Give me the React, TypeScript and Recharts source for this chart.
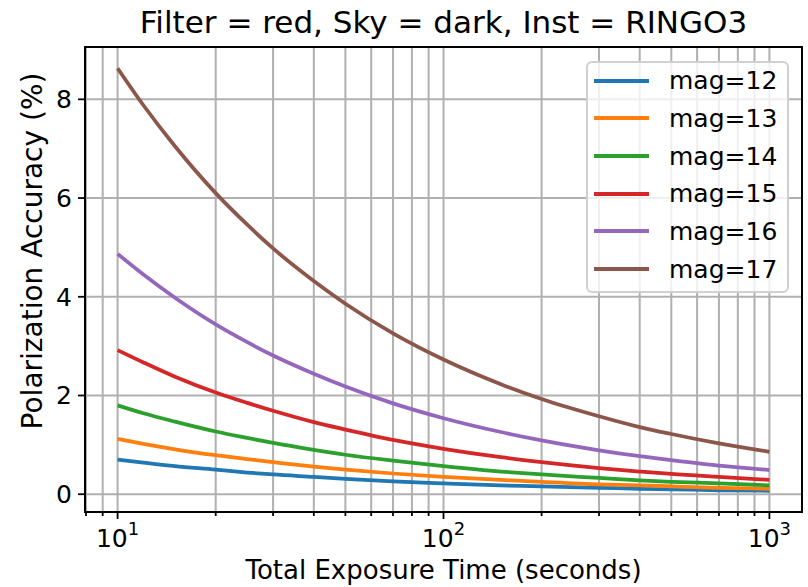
import { LineChart, Line, XAxis, YAxis, CartesianGrid, Legend } from 'recharts'

const FONT = "'DejaVu Sans', Verdana, sans-serif"

// exposure time (s) and polarization accuracy (%) per magnitude
const exposureTimes = [10, 12, 15, 20, 25, 30, 40, 50, 70, 100, 150, 200, 300, 400, 500, 700, 1000]
const mag12 = [0.7, 0.64, 0.57, 0.5, 0.44, 0.4, 0.35, 0.31, 0.26, 0.22, 0.18, 0.16, 0.13, 0.11, 0.1, 0.08, 0.07]
const mag13 = [1.12, 1.02, 0.91, 0.79, 0.71, 0.65, 0.56, 0.5, 0.42, 0.35, 0.29, 0.25, 0.2, 0.18, 0.16, 0.13, 0.11]
const mag14 = [1.8, 1.64, 1.47, 1.27, 1.14, 1.04, 0.9, 0.8, 0.68, 0.57, 0.46, 0.4, 0.33, 0.28, 0.25, 0.22, 0.18]
const mag15 = [2.92, 2.67, 2.38, 2.06, 1.85, 1.69, 1.46, 1.31, 1.1, 0.92, 0.75, 0.65, 0.53, 0.46, 0.41, 0.35, 0.29]
const mag16 = [4.87, 4.45, 3.98, 3.44, 3.08, 2.81, 2.44, 2.18, 1.84, 1.54, 1.26, 1.09, 0.89, 0.77, 0.69, 0.58, 0.49]
const mag17 = [8.63, 7.88, 7.05, 6.1, 5.46, 4.98, 4.32, 3.86, 3.26, 2.73, 2.23, 1.93, 1.58, 1.36, 1.22, 1.03, 0.86]

const majorTicks = [10, 100, 1000]
const gridTicks = [8, 9, 10, 20, 30, 40, 50, 60, 70, 80, 90, 100, 200, 300, 400, 500, 600, 700, 800, 900, 1000]
const yTicks = [0, 2, 4, 6, 8]

const series = [
  { key: 'mag12', name: 'mag=12', color: '#1f77b4', values: mag12 },
  { key: 'mag13', name: 'mag=13', color: '#ff7f0e', values: mag13 },
  { key: 'mag14', name: 'mag=14', color: '#2ca02c', values: mag14 },
  { key: 'mag15', name: 'mag=15', color: '#d62728', values: mag15 },
  { key: 'mag16', name: 'mag=16', color: '#9467bd', values: mag16 },
  { key: 'mag17', name: 'mag=17', color: '#8c564b', values: mag17 },
]

const data = exposureTimes.map((t, i) => {
  const row: Record<string, number> = { t }
  series.forEach(s => { row[s.key] = s.values[i] })
  return row
})

// plot box
const LEFT = 85
const RIGHT = 802
const TOP = 47
const BOTTOM = 512

function TimeTick({ x, y, payload }: any) {
  const v = payload.value
  const major = majorTicks.includes(v)
  return (
    <g>
      <line x1={x} x2={x} y1={y} y2={y + (major ? 7 : 4)} stroke="#000" strokeWidth={1.8} />
      {major && (
        <text x={x} y={y + 35} textAnchor="middle" fontSize={25} fill="#000" fontFamily={FONT}>
          10<tspan dy={-12} fontSize={18}>{Math.round(Math.log10(v))}</tspan>
        </text>
      )}
    </g>
  )
}

function MagLegend() {
  return (
    <div
      style={{
        boxSizing: 'border-box',
        width: 203,
        height: 232,
        background: 'rgba(255,255,255,0.8)',
        border: '2px solid #d0d0d0',
        borderRadius: 6,
        position: 'relative',
        fontFamily: FONT,
        fontSize: 25,
        color: '#000',
      }}
    >
      {series.map((s, i) => (
        <div
          key={s.key}
          style={{
            position: 'absolute',
            left: 0,
            top: 19.7 + 37.7 * i - 18.85 - 2,
            height: 37.7,
            display: 'flex',
            alignItems: 'center',
          }}
        >
          <div style={{ marginLeft: 6, width: 55, height: 4, background: s.color }} />
          <span style={{ marginLeft: 20, lineHeight: 1, whiteSpace: 'nowrap' }}>{s.name}</span>
        </div>
      ))}
    </div>
  )
}

export default function App() {
  return (
    <div style={{ position: 'absolute', left: 0, top: 0, width: 808, height: 587, background: '#fff' }}>
      <LineChart width={808} height={587} data={data} margin={{ top: TOP, right: 808 - RIGHT, bottom: 0, left: 0 }}>
        <CartesianGrid stroke="#b0b0b0" strokeWidth={2} />
        <XAxis
          dataKey="t"
          type="number"
          scale="log"
          domain={[7.943, 1258.9]}
          allowDataOverflow
          ticks={gridTicks}
          interval={0}
          height={587 - BOTTOM}
          axisLine={false}
          tickLine={false}
          tickSize={0}
          tickMargin={0}
          tick={<TimeTick />}
        />
        <YAxis
          type="number"
          domain={[-0.36, 9.06]}
          allowDataOverflow
          ticks={yTicks}
          interval={0}
          width={LEFT}
          axisLine={false}
          tickLine={{ stroke: '#000', strokeWidth: 1.8 }}
          tickSize={7}
          tickMargin={6}
          tick={{ fill: '#000', fontSize: 25, fontFamily: FONT }}
        />
        {series.map(s => (
          <Line
            key={s.key}
            dataKey={s.key}
            name={s.name}
            type="monotone"
            stroke={s.color}
            strokeWidth={3.75}
            dot={false}
            isAnimationActive={false}
          />
        ))}
        <Legend
          layout="vertical"
          align="center"
          verticalAlign="middle"
          content={() => <MagLegend />}
          wrapperStyle={{ top: 61, left: 586, width: 203, height: 232 }}
        />
      </LineChart>
      <svg
        width={808}
        height={587}
        style={{ position: 'absolute', left: 0, top: 0, pointerEvents: 'none' }}
        fontFamily={FONT}
      >
        <rect x={LEFT} y={TOP} width={RIGHT - LEFT} height={BOTTOM - TOP} fill="none" stroke="#000" strokeWidth={2} />
        <text x={(LEFT + RIGHT) / 2} y={33} textAnchor="middle" fontSize={31} fill="#000">
          Filter = red, Sky = dark, Inst = RINGO3
        </text>
        <text x={(LEFT + RIGHT) / 2} y={579} textAnchor="middle" fontSize={26} fill="#000">
          Total Exposure Time (seconds)
        </text>
        <text
          transform="translate(42, 251) rotate(-90)"
          textAnchor="middle"
          fontSize={28}
          fill="#000"
        >
          Polarization Accuracy (%)
        </text>
      </svg>
    </div>
  )
}
